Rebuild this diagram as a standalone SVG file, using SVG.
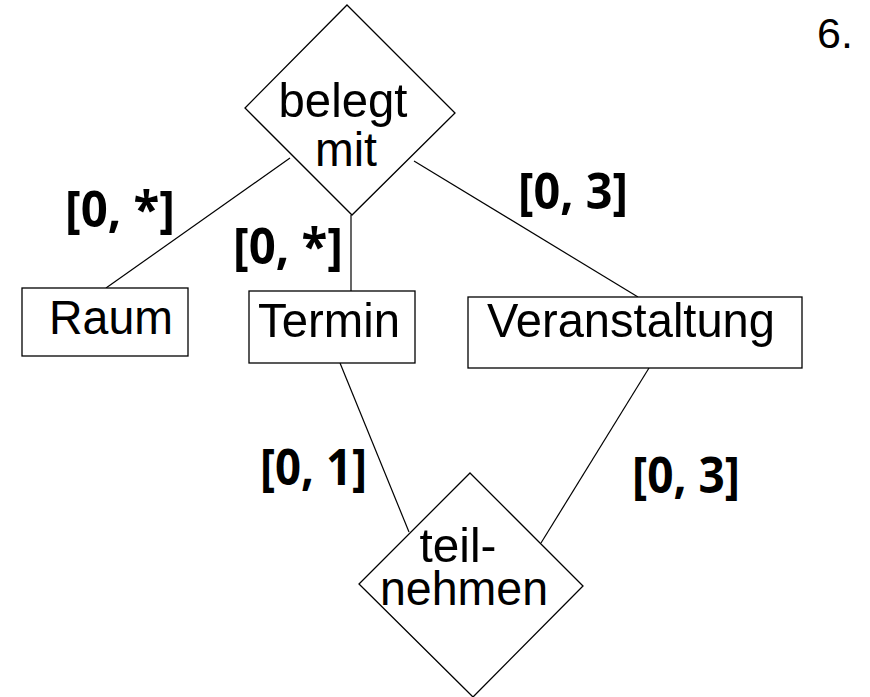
<svg xmlns="http://www.w3.org/2000/svg" width="870" height="697" viewBox="0 0 870 697">
<style>
.shape{fill:#fff;stroke:#000;stroke-width:1.3}
.edge{stroke:#000;stroke-width:1.2;fill:none}
.t{font-family:"Liberation Sans",Arial,sans-serif;font-size:49px;fill:#000;text-anchor:middle}
.c{font-family:"Open Sans","Noto Sans",sans-serif;font-weight:bold;font-size:50px;fill:#000}
</style>
<rect width="870" height="697" fill="#fff"/>
<g id="connectors">
<line class="edge" x1="290" y1="158" x2="106" y2="288"/>
<line class="edge" x1="351" y1="215" x2="351" y2="291"/>
<line class="edge" x1="414" y1="161" x2="638" y2="297"/>
<line class="edge" x1="340" y1="363" x2="409" y2="532"/>
<line class="edge" x1="649" y1="368" x2="541" y2="543"/>
</g>
<g id="belegt-mit">
<polygon class="shape" points="347,5 455,113 352,215 245,108"/>
<text class="t" x="343" y="117" textLength="129" lengthAdjust="spacingAndGlyphs">belegt</text>
<text class="t" x="346" y="166" textLength="62" lengthAdjust="spacingAndGlyphs">mit</text>
</g>
<g id="raum">
<rect class="shape" x="22" y="288" width="166" height="68"/>
<text class="t" x="111" y="334" textLength="124" lengthAdjust="spacingAndGlyphs">Raum</text>
</g>
<g id="termin">
<rect class="shape" x="249" y="291" width="166" height="72"/>
<text class="t" x="329" y="337" textLength="142" lengthAdjust="spacingAndGlyphs">Termin</text>
</g>
<g id="veranstaltung">
<rect class="shape" x="468" y="297" width="334" height="71"/>
<text class="t" x="631" y="337" textLength="288" lengthAdjust="spacingAndGlyphs">Veranstaltung</text>
</g>
<g id="teilnehmen">
<polygon class="shape" points="470,473 583,586 473,697 359,584"/>
<text class="t" x="458" y="562" textLength="77" lengthAdjust="spacingAndGlyphs">teil-</text>
<text class="t" x="464" y="605" textLength="168" lengthAdjust="spacingAndGlyphs">nehmen</text>
</g>
<g id="labels">
<text class="c" x="65" y="227" textLength="110" lengthAdjust="spacingAndGlyphs">[0, *]</text>
<text class="c" x="233" y="264" textLength="110" lengthAdjust="spacingAndGlyphs">[0, *]</text>
<text class="c" x="518" y="209" textLength="110" lengthAdjust="spacingAndGlyphs">[0, 3]</text>
<text class="c" x="260" y="485" textLength="107" lengthAdjust="spacingAndGlyphs">[0, 1]</text>
<text class="c" x="632" y="493" textLength="108" lengthAdjust="spacingAndGlyphs">[0, 3]</text>
</g>
<text class="t" x="835" y="48" style="font-size:43px">6.</text>
</svg>
